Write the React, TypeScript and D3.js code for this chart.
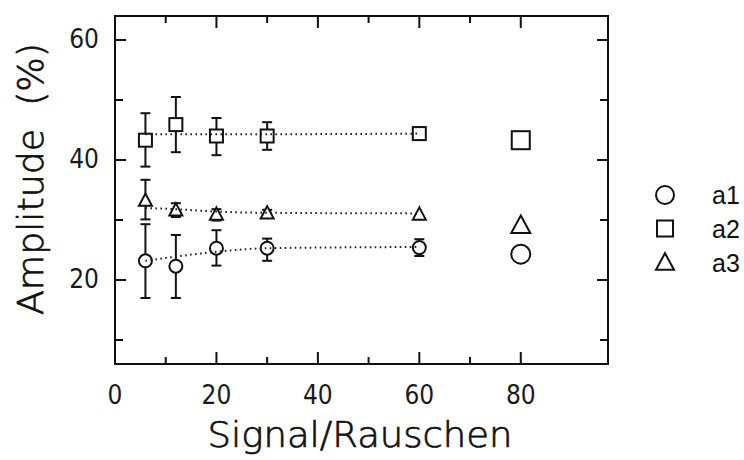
import React from 'react';
import * as d3 from 'd3';

// measured S/N values
const snr = [6, 12, 20, 30, 60];

// amplitudes (%) with error-bar limits
const a1 = [23.2, 22.3, 25.3, 25.3, 25.4];
const a1Low = [17.0, 17.0, 22.4, 23.2, 24.0];
const a1High = [29.3, 27.5, 28.3, 26.9, 26.8];

const a2 = [43.3, 45.9, 44.0, 44.0, 44.4];
const a2Low = [38.9, 41.3, 40.8, 41.7, 43.4];
const a2High = [47.8, 50.5, 47.0, 46.3, 45.4];

const a3 = [33.3, 31.7, 31.0, 31.2, 31.0];
const a3Low = [30.1, 30.5, 29.9, 30.7, 30.6];
const a3High = [36.7, 32.8, 31.8, 31.7, 31.4];

// dotted fit curves evaluated at the S/N values
const a1Fit = [23.2, 23.9, 24.7, 25.3, 25.5];
const a2Fit = [44.3, 44.3, 44.3, 44.3, 44.4];
const a3Fit = [32.0, 31.8, 31.4, 31.2, 31.1];

// reference (true) amplitudes, drawn at the right
const refX = 80;
const refValues = [24.3, 43.3, 29.2];

const xMajor = [0, 20, 40, 60, 80];
const xMinor = [10, 30, 50, 70];
const yMajor = [20, 40, 60];
const yMinor = [10, 30, 50];

const legendLabels = ['a1', 'a2', 'a3'];
const shapes = ['circle', 'square', 'triangle'];

const W = 744;
const H = 460;
const left = 115, right = 608, top = 16, bottom = 364;

const x = d3.scaleLinear().domain([0, 97.2]).range([left, right]);
const y = d3.scaleLinear().domain([6, 64]).range([bottom, top]);

const tickFont = '"DejaVu Sans Condensed", "Liberation Sans Narrow", sans-serif';
const titleFont = '"DejaVu Sans", sans-serif';

function Marker({ shape, cx, cy, size }: { shape: string; cx: number; cy: number; size: number }) {
  const common = { fill: 'white', stroke: '#111', strokeWidth: 2 };
  if (shape === 'circle') return <circle cx={cx} cy={cy} r={size / 2} {...common} />;
  if (shape === 'square')
    return <rect x={cx - size / 2} y={cy - size / 2} width={size} height={size} {...common} />;
  const h = size * 0.87;
  const pts = [
    [cx, cy - h / 2 - 1],
    [cx + size / 2, cy + h / 2],
    [cx - size / 2, cy + h / 2],
  ];
  return <polygon points={pts.map(p => p.join(',')).join(' ')} {...common} strokeLinejoin="miter" />;
}

export default function App() {
  const series = [
    { vals: a1, low: a1Low, high: a1High, fit: a1Fit, shape: shapes[0], showErr: [true, true, true, true, true] },
    { vals: a2, low: a2Low, high: a2High, fit: a2Fit, shape: shapes[1], showErr: [true, true, true, true, true] },
    { vals: a3, low: a3Low, high: a3High, fit: a3Fit, shape: shapes[2], showErr: [true, true, true, true, false] },
  ];

  const line = d3.line<number>()
    .x((_, i) => x(snr[i]))
    .y(d => y(d))
    .curve(d3.curveMonotoneX);

  const cap = 5;

  return (
    <svg width={W} height={H} style={{ position: 'absolute', left: 0, top: 0, background: 'white' }}>
      {/* error bars */}
      {series.map((s, k) => (
        <g key={'err' + k} stroke="#111" strokeWidth={2}>
          {snr.map((sx, i) => s.showErr[i] && (
            <g key={i}>
              <line x1={x(sx)} x2={x(sx)} y1={y(s.low[i])} y2={y(s.high[i])} />
              <line x1={x(sx) - cap} x2={x(sx) + cap} y1={y(s.low[i])} y2={y(s.low[i])} />
              <line x1={x(sx) - cap} x2={x(sx) + cap} y1={y(s.high[i])} y2={y(s.high[i])} />
            </g>
          ))}
        </g>
      ))}

      {/* markers */}
      {series.map((s, k) => (
        <g key={'m' + k}>
          {snr.map((sx, i) => (
            <Marker key={i} shape={s.shape} cx={x(sx)} cy={y(s.vals[i])} size={13} />
          ))}
        </g>
      ))}

      {/* dotted fit curves, drawn over the hollow markers */}
      {series.map((s, k) => (
        <path key={'fit' + k} d={line(s.fit) || ''} fill="none" stroke="#222"
          strokeWidth={2} strokeDasharray="1.6,3.4" />
      ))}

      {/* reference values */}
      {refValues.map((v, k) => (
        <Marker key={'ref' + k} shape={shapes[k]} cx={x(refX)} cy={y(v)} size={k === 1 ? 18 : 19} />
      ))}

      {/* frame */}
      <rect x={left} y={top} width={right - left} height={bottom - top} fill="none" stroke="#111" strokeWidth={2} />

      {/* ticks on all four sides, pointing inward */}
      <g stroke="#111" strokeWidth={2}>
        {xMajor.map(t => (
          <g key={'xM' + t}>
            <line x1={x(t)} x2={x(t)} y1={bottom} y2={bottom - 12} />
            <line x1={x(t)} x2={x(t)} y1={top} y2={top + 12} />
          </g>
        ))}
        {xMinor.map(t => (
          <g key={'xm' + t}>
            <line x1={x(t)} x2={x(t)} y1={bottom} y2={bottom - 7} />
            <line x1={x(t)} x2={x(t)} y1={top} y2={top + 7} />
          </g>
        ))}
        {yMajor.map(t => (
          <g key={'yM' + t}>
            <line x1={left} x2={left + 11} y1={y(t)} y2={y(t)} />
            <line x1={right} x2={right - 11} y1={y(t)} y2={y(t)} />
          </g>
        ))}
        {yMinor.map(t => (
          <g key={'ym' + t}>
            <line x1={left} x2={left + 8} y1={y(t)} y2={y(t)} />
            <line x1={right} x2={right - 8} y1={y(t)} y2={y(t)} />
          </g>
        ))}
      </g>

      {/* tick labels */}
      <g fontFamily={tickFont} fontSize={26} fill="#1a1a1a">
        {xMajor.map(t => (
          <text key={'xl' + t} x={x(t)} y={404} textAnchor="middle">{t}</text>
        ))}
        {yMajor.map(t => (
          <text key={'yl' + t} x={99} y={y(t) - 1.5} dy="0.36em" textAnchor="end">{t}</text>
        ))}
      </g>

      {/* axis titles */}
      <g fontFamily={titleFont} fontWeight={200} fontSize={35} fill="#111" stroke="#111" strokeWidth={0.7}>
        <text x={360} y={447} textAnchor="middle" textLength={305} lengthAdjust="spacingAndGlyphs">
          Signal/Rauschen
        </text>
        <text transform="translate(43,179) rotate(-90)" textAnchor="middle" textLength={272}
          lengthAdjust="spacingAndGlyphs" style={{ whiteSpace: 'pre' }}>{'Amplitude  (%)'}</text>
      </g>

      {/* legend */}
      {legendLabels.map((lab, k) => (
        <g key={'lg' + k}>
          <Marker shape={shapes[k]} cx={665} cy={195 + k * 33.5} size={k === 1 ? 16 : 18} />
          <text x={712} y={204 + k * 34} fontFamily='"Liberation Sans", Arial, sans-serif'
            fontSize={25} fill="#111">{lab}</text>
        </g>
      ))}
    </svg>
  );
}
